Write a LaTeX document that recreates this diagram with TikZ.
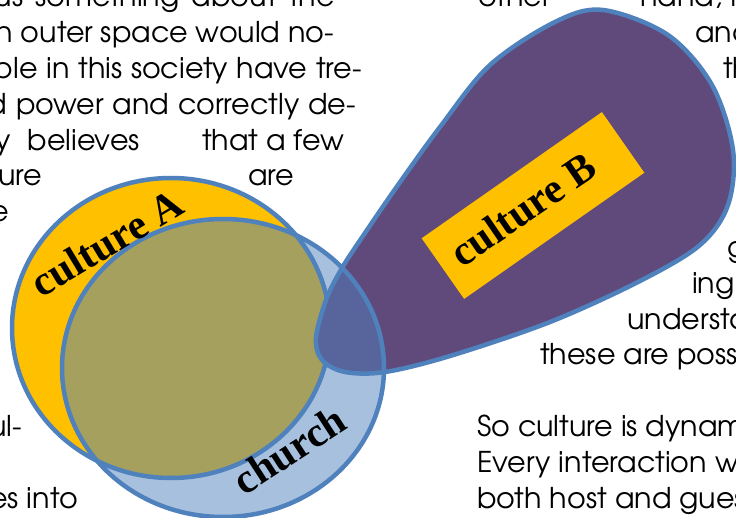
\documentclass[tikz,border=0pt]{standalone}
\usepackage{fontspec}
\setmainfont{TeX Gyre Adventor}
\newfontfamily\lblfont{Liberation Serif}
\definecolor{cyellow}{HTML}{FFC000}
\definecolor{cblue}{HTML}{4F81BD}
\definecolor{cpurple}{HTML}{604A7B}
\begin{document}
\begin{tikzpicture}[x=1pt,y=-1pt,
  body/.style={font=\fontsize{28.6}{34}\selectfont, inner sep=0pt, text=black},
  lbl/.style={font=\lblfont\bfseries\fontsize{42}{42}\selectfont, inner sep=0pt},
  shapeline/.style={draw=cblue, line width=4.5pt}]
\useasboundingbox (0,0) rectangle (736,518);
\clip (0,0) rectangle (736,518);
% left column text (justified lines)
\node[body, anchor=base east] (l0) at (335,7) {\makebox[340pt][s]{us something about the}};
\node[body, anchor=base east] (l1) at (334,42.8) {\makebox[338pt][s]{n outer space would no-}};
\node[body, anchor=base east] (l2) at (362,78.6) {\makebox[368pt][s]{ple in this society have tre-}};
\node[body, anchor=base east] (l3) at (356,114.4) {\makebox[368pt][s]{d power and correctly de-}};
\node[body, anchor=base east] (l4a) at (140,150.2) {\makebox[144pt][s]{y believes}};
\node[body, anchor=base west] (l4b) at (202,150.2) {that a few};
\node[body, anchor=base east] (l5a) at (42,186) {ure};
\node[body, anchor=base west] (l5b) at (248,186) {are};
\node[body, anchor=base east] (l6) at (9,221.8) {e};
\node[body, anchor=base east] (l12) at (22,436.6) {ul-};
\node[body, anchor=base east] (l14) at (78,508.2) {es into};
% right column text
\node[body, anchor=base west] (r0a) at (478,7) {other};
\node[body, anchor=base west] (r0b) at (640,7) {hand, I};
\node[body, anchor=base west] (r1) at (695,42.8) {and};
\node[body, anchor=base west] (r2) at (723,78.6) {the};
\node[body, anchor=base west] (r7) at (727,257.6) {go};
\node[body, anchor=base west] (r8) at (692,293.4) {ing};
\node[body, anchor=base west] (r9) at (627,329.2) {understand};
\node[body, anchor=base west] (r10) at (540,365) {these are possible};
\node[body, anchor=base west] (r12) at (477,436.6) {So culture is dynamic};
\node[body, anchor=base west] (r13) at (477,472.4) {Every interaction with};
\node[body, anchor=base west] (r14) at (477,508.2) {both host and guest};
% shapes
\draw[shapeline, fill=cyellow] (171,328) ellipse [x radius=159, y radius=150];
\draw[shapeline, fill=cpurple] plot[smooth cycle, tension=0.55] coordinates {
  (316,338) (326,300) (342,268) (365,233) (398,185) (440,127) (490,65)
  (555,22) (603,10) (668,35) (712,85) (733,150) (728,205) (700,245)
  (640,281) (550,322) (450,356) (385,372) (345,372) (322,360)};
\draw[shapeline, fill=cblue, fill opacity=0.5] (223,368) ellipse [x radius=161, y radius=149];
% labels
\node[lbl, rotate=31, anchor=base] (la) at (114,255) {culture A};
\node[lbl, rotate=33, anchor=base] (lc) at (297,462) {church};
\node[fill=cyellow, rotate=35, minimum width=220pt, minimum height=74pt, inner sep=0pt] (lbbox) at (533,205.5) {};
\node[lbl, rotate=34.5, anchor=base] (lb) at (531,221) {culture B};
\end{tikzpicture}
\end{document}
